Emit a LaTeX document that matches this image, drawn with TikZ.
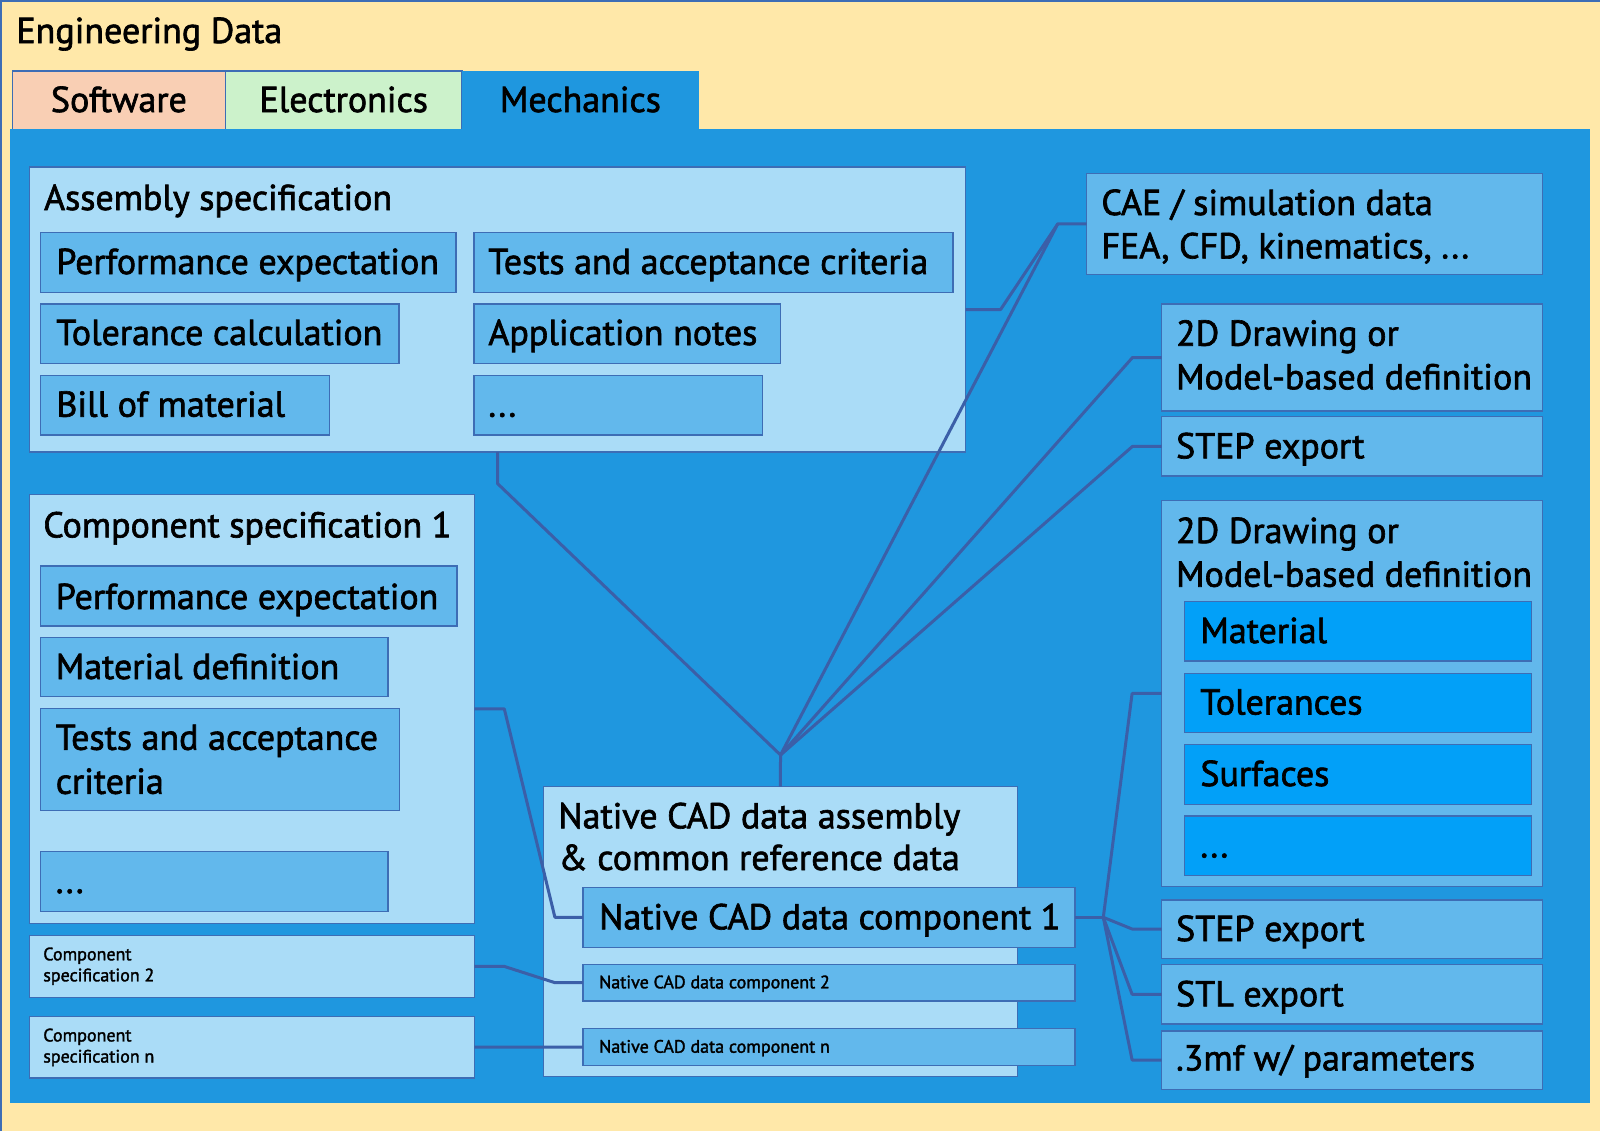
\documentclass[tikz,border=0pt]{standalone}
\usepackage{fontspec}
\setmainfont[FakeBold=1.8]{PT Sans}
\usetikzlibrary{fit}
\definecolor{bgy}{HTML}{FFE8A9}
\definecolor{panelc}{HTML}{1F97DF}
\definecolor{lightc}{HTML}{AADCF7}
\definecolor{midc}{HTML}{62B8EC}
\definecolor{brightc}{HTML}{02A0F8}
\definecolor{bordc}{HTML}{3D6DB5}
\definecolor{conc}{HTML}{3B5FA8}
\definecolor{swc}{HTML}{F9CFB4}
\definecolor{elc}{HTML}{CCF2CB}
\tikzset{
  bx/.style={draw=bordc, line width=0.7pt, inner sep=0pt, outer sep=0pt},
  lt/.style={bx, fill=lightc},
  md/.style={bx, fill=midc},
  br/.style={bx, fill=brightc},
  bigt/.style={anchor=base west, inner sep=0pt, font=\fontsize{18}{21.75}\selectfont},
  smlt/.style={anchor=base west, inner sep=0pt, font=\fontsize{9}{10.5}\selectfont},
  tabt/.style={anchor=base, inner sep=0pt, font=\fontsize{18}{21.75}\selectfont},
  con/.style={draw=conc, line width=1.5pt, line join=round},
}
\begin{document}
\begin{tikzpicture}[x=0.5pt,y=-0.5pt]
\useasboundingbox (0,0) rectangle (1600,1131);
\fill[bgy] (0,0) rectangle (1600,1131);
\draw[bordc, line width=1pt] (1,1131) -- (1,1) -- (1600,1);

% title and tabs
\node[bigt] (title) at (16,43) {Engineering Data};
\node[bx, fill=swc, fit={(12.4,71) (225.4,129.3)}] (tabsw) {};
\node[bx, fill=elc, fit={(225.4,71) (462,129.3)}] (tabel) {};
\node[inner sep=0pt, fill=panelc, fit={(462,71) (698.8,130)}] (tabme) {};
\node[inner sep=0pt, fill=panelc, fit={(10,129.3) (1590,1102.5)}] (panel) {};
\node[tabt] (tswt) at (118.9,112) {Software};
\node[tabt] (telt) at (343.7,112) {Electronics};
\node[tabt] (tmet) at (580.4,112) {Mechanics};

% assembly specification
\node[lt, fit={(29.4,167) (965.6,452)}] (as) {};
\node[bigt] (ast) at (43.7,210) {Assembly specification};
\node[md, fit={(40.6,232.3) (456,292.3)}] (as1) {};
\node[md, fit={(473.8,232.3) (953,292.3)}] (as2) {};
\node[md, fit={(40.6,304) (399,363.3)}] (as3) {};
\node[md, fit={(473.8,304) (780.6,363.3)}] (as4) {};
\node[md, fit={(40.6,375.3) (329.4,435)}] (as5) {};
\node[md, fit={(473.8,375.3) (762.5,435)}] (as6) {};
\node[bigt] (as1t) at (56,274) {Performance expectation};
\node[bigt] (as2t) at (488,274) {Tests and acceptance criteria};
\node[bigt] (as3t) at (56,345) {Tolerance calculation};
\node[bigt] (as4t) at (488,345) {Application notes};
\node[bigt] (as5t) at (56,416.7) {Bill of material};
\node[bigt] (as6t) at (488,416.7) {...};

% component specification 1
\node[lt, fit={(29.3,494.5) (474.3,923.2)}] (cs1) {};
\node[bigt] (cs1t) at (42.9,537.4) {Component specification 1};
\node[md, fit={(40.4,566) (457,625.8)}] (cs1a) {};
\node[md, fit={(40.4,637.3) (387.9,696.6)}] (cs1b) {};
\node[md, fit={(40.4,708.5) (399.3,810.3)}] (cs1c) {};
\node[md, fit={(40.4,851.2) (387.9,911.7)}] (cs1d) {};
\node[bigt] (cs1at) at (55.4,609) {Performance expectation};
\node[bigt] (cs1bt) at (55.4,679) {Material definition};
\node[bigt] (cs1ct) at (55.4,749.8) {Tests and acceptance};
\node[bigt] (cs1ct2) at (55.4,793.8) {criteria};
\node[bigt] (cs1dt) at (55.4,893) {...};

% component specification 2, n
\node[lt, fit={(29.3,935.4) (474.3,997.4)}] (cs2) {};
\node[smlt] (cs2t) at (42.9,960.3) {Component};
\node[smlt] (cs2t2) at (42.9,981.3) {specification 2};
\node[lt, fit={(29.3,1016.5) (474.3,1077.8)}] (csn) {};
\node[smlt] (csnt) at (42.9,1041.4) {Component};
\node[smlt] (csnt2) at (42.9,1062.5) {specification n};

% native CAD
\node[lt, fit={(543.3,786.7) (1017.6,1076.7)}] (na) {};
\node[bigt] (nat) at (558,828.3) {Native CAD data assembly};
\node[bigt] (nat2) at (558,870) {\& common reference data};
\node[md, fit={(582.9,887.3) (1075,947.3)}] (nc1) {};
\node[bigt] (nc1t) at (598.8,929.3) {Native CAD data component 1};
\node[md, fit={(582.9,964.3) (1075,1001)}] (nc2) {};
\node[smlt] (nc2t) at (598.8,988.3) {Native CAD data component 2};
\node[md, fit={(582.9,1028.3) (1075,1065.7)}] (ncn) {};
\node[smlt] (ncnt) at (598.8,1052.7) {Native CAD data component n};

% right column
\node[md, fit={(1086.5,173.3) (1542.7,274.3)}] (cae) {};
\node[bigt] (caet) at (1101,215) {CAE / simulation data};
\node[bigt] (caet2) at (1101,258.3) {FEA, CFD, kinematics, ...};
\node[md, fit={(1161.5,304) (1542.7,411)}] (d1) {};
\node[bigt] (d1t) at (1175.7,345.7) {2D Drawing or};
\node[bigt] (d1t2) at (1175.7,389.3) {Model-based definition};
\node[md, fit={(1161.5,416.7) (1542.7,476)}] (s1) {};
\node[bigt] (s1t) at (1175.7,458.3) {STEP export};
\node[md, fit={(1161.5,500.2) (1542.7,886.7)}] (d2) {};
\node[bigt] (d2t) at (1175.7,543) {2D Drawing or};
\node[bigt] (d2t2) at (1175.7,586.7) {Model-based definition};
\node[br, fit={(1184.3,601.4) (1531.7,661)}] (m1) {};
\node[bigt] (m1t) at (1200,643) {Material};
\node[br, fit={(1184.3,673.3) (1531.7,732.4)}] (m2) {};
\node[bigt] (m2t) at (1200,714.5) {Tolerances};
\node[br, fit={(1184.3,744.7) (1531.7,804.3)}] (m3) {};
\node[bigt] (m3t) at (1200,786) {Surfaces};
\node[br, fit={(1184.3,816) (1531.7,875.3)}] (m4) {};
\node[bigt] (m4t) at (1200,857.3) {...};
\node[md, fit={(1161.5,899.8) (1542.7,958.2)}] (s2) {};
\node[bigt] (s2t) at (1175.7,941) {STEP export};
\node[md, fit={(1161.5,964.7) (1542.7,1023.9)}] (stl) {};
\node[bigt] (stlt) at (1175.7,1006.3) {STL export};
\node[md, fit={(1161.5,1030.8) (1542.7,1089.2)}] (mf) {};
\node[bigt] (mft) at (1175.7,1070.4) {.3mf w/ parameters};

% connectors
\coordinate (hub) at (780.5,755);
\coordinate (caej) at (1057.8,223.8);
\coordinate (hub2) at (1103.3,917.3);
\draw[con] (as.south) -- ++(0,31.5) -- (hub);
\draw[con] (as.east) -- ++(35,0) -- (caej) -- (cae.west);
\draw[con] (hub) -- (caej);
\draw[con] (d1.west) -- ++(-29,0) -- (hub);
\draw[con] (s1.west) -- ++(-29,0) -- (hub);
\draw[con] (hub) -- (na.north);
\draw[con] (cs1.east) -- ++(30,0) -- ([xshift=-14pt]nc1.west) -- (nc1.west);
\draw[con] (cs2.east) -- ++(30,0) -- ([xshift=-14pt]nc2.west) -- (nc2.west);
\draw[con] (csn.east) -- (ncn.west);
\draw[con] (nc1.east) -- (hub2);
\draw[con] (hub2) -- ([xshift=-14.7pt]d2.west) -- (d2.west);
\draw[con] (hub2) -- ([xshift=-14.7pt]s2.west) -- (s2.west);
\draw[con] (hub2) -- ([xshift=-14.7pt]stl.west) -- (stl.west);
\draw[con] (hub2) -- ([xshift=-14.7pt]mf.west) -- (mf.west);
\end{tikzpicture}
\end{document}
